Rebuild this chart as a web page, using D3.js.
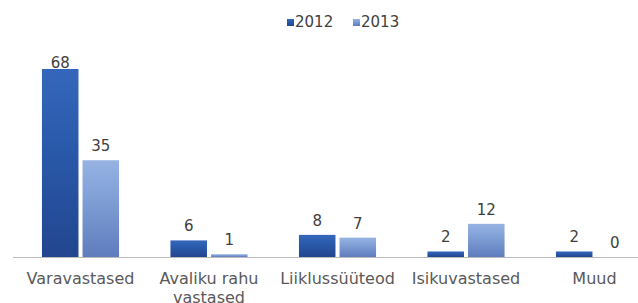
<!DOCTYPE html>
<html>
<head>
<meta charset="utf-8">
<script src="https://cdn.jsdelivr.net/npm/d3@7"></script>
<style>
  body { margin: 0; background: #fff; }
  text { font-family: "DejaVu Sans", Verdana, sans-serif; }
</style>
</head>
<body>
<div id="main"></div>
<script>
var width = 638;
var height = 303;

var categories = ["Varavastased", "Avaliku rahu vastased", "Liiklussüüteod", "Isikuvastased", "Muud"];
var categoryLines = [["Varavastased"], ["Avaliku rahu", "vastased"], ["Liiklussüüteod"], ["Isikuvastased"], ["Muud"]];
var years = ["2012", "2013"];
var values2012 = [68, 6, 8, 2, 2];
var values2013 = [35, 1, 7, 12, 0];

var baseY = 257;

var svg = d3.select("#main")
    .append("svg")
    .attr("width", width)
    .attr("height", height);

var defs = svg.append("defs");
var grads = [
  { id: "g2012", stops: ["#3467bb", "#2a5aab", "#22468f"] },
  { id: "g2013", stops: ["#97b3e3", "#7f9fd6", "#5f7cbd"] }
];
grads.forEach(function(gr) {
  var lg = defs.append("linearGradient")
      .attr("id", gr.id)
      .attr("x1", 0).attr("y1", 0).attr("x2", 0).attr("y2", 1);
  lg.append("stop").attr("offset", "0%").attr("stop-color", gr.stops[0]);
  lg.append("stop").attr("offset", "40%").attr("stop-color", gr.stops[1]);
  lg.append("stop").attr("offset", "100%").attr("stop-color", gr.stops[2]);
});

var x0 = d3.scaleBand()
    .domain(categories)
    .range([16.25, 16.25 + 5 * 128.5])
    .paddingInner(0.4)
    .paddingOuter(0.2);

var x1 = d3.scaleBand()
    .domain(years)
    .range([0, x0.bandwidth()])
    .paddingInner(0.1);

var y = d3.scaleLinear()
    .domain([0, 68])
    .range([baseY, 69]);

var data = categories.map(function(c, i) {
  return { cat: c, lines: categoryLines[i], vals: [
    { year: "2012", v: values2012[i] },
    { year: "2013", v: values2013[i] }
  ]};
});

// axis line
svg.append("line")
    .attr("x1", 13).attr("x2", width)
    .attr("y1", baseY + 0.5).attr("y2", baseY + 0.5)
    .attr("stroke", "#bcbcbc")
    .attr("stroke-width", 1);

var groups = svg.selectAll("g.cat")
    .data(data)
    .enter()
    .append("g")
    .attr("class", "cat")
    .attr("transform", d => "translate(" + x0(d.cat) + ",0)");

groups.selectAll("rect")
    .data(d => d.vals)
    .enter()
    .append("rect")
    .attr("x", d => x1(d.year))
    .attr("y", d => y(d.v))
    .attr("width", x1.bandwidth())
    .attr("height", d => Math.max(baseY - y(d.v), d.v === 1 ? 1.5 : 0))
    .attr("fill", d => "url(#g" + d.year + ")");

groups.selectAll("text.val")
    .data(d => d.vals)
    .enter()
    .append("text")
    .attr("class", "val")
    .attr("x", d => x1(d.year) + x1.bandwidth() / 2)
    .attr("y", d => Math.max(y(d.v) - 9, 68))
    .attr("text-anchor", "middle")
    .attr("font-size", 15)
    .attr("fill", "#404040")
    .text(d => d.v);

// category labels
groups.each(function(d) {
  var t = d3.select(this).append("text")
      .attr("x", x0.bandwidth() / 2)
      .attr("y", 284)
      .attr("text-anchor", "middle")
      .attr("font-size", 16)
      .attr("fill", "#595959");
  d.lines.forEach(function(line, i) {
    t.append("tspan")
        .attr("x", x0.bandwidth() / 2)
        .attr("dy", i === 0 ? 0 : 19)
        .text(line);
  });
});

// legend
var legendX = [287, 353];
var legend = svg.selectAll("g.legend")
    .data(years)
    .enter()
    .append("g")
    .attr("class", "legend")
    .attr("transform", (d, i) => "translate(" + legendX[i] + ",0)");

legend.append("rect")
    .attr("x", 0).attr("y", 19)
    .attr("width", 7).attr("height", 7)
    .attr("fill", d => "url(#g" + d + ")");

legend.append("text")
    .attr("x", 8)
    .attr("y", 27)
    .attr("font-size", 15)
    .attr("fill", "#404040")
    .text(d => d);
</script>
</body>
</html>
